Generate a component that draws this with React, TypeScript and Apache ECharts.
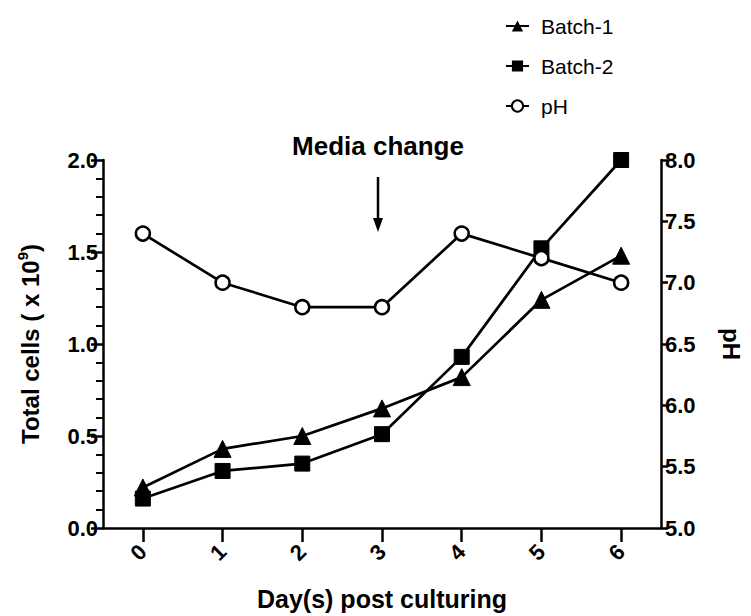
import React, { useEffect, useRef } from "react";
import * as echarts from "echarts";

const days = ["0", "1", "2", "3", "4", "5", "6"];
const batch1 = [0.22, 0.43, 0.5, 0.65, 0.82, 1.24, 1.48];
const batch2 = [0.16, 0.31, 0.35, 0.51, 0.93, 1.52, 2.0];
const ph = [7.4, 7.0, 6.8, 6.8, 7.4, 7.2, 7.0];

const FONT = "Liberation Sans, Arial, Helvetica, sans-serif";

export default function App() {
  const ref = useRef<HTMLDivElement>(null);
  useEffect(() => {
    if (!ref.current) return;
    const chart = echarts.init(ref.current, null, { renderer: "svg" });
    const axisLine = { show: true, lineStyle: { color: "#000", width: 2.5 } };
    const tickLabel = { color: "#000", fontSize: 22, fontWeight: "bold" as const, fontFamily: FONT };
    const nameStyle = { color: "#000", fontSize: 24, fontWeight: "bold" as const, fontFamily: FONT };
    chart.setOption({
      animation: false,
      backgroundColor: "#fff",
      textStyle: { fontFamily: FONT },
      grid: { left: 103, right: 86, top: 160, bottom: 88, containLabel: false },
      legend: {
        orient: "vertical",
        left: 500,
        top: 9,
        itemGap: 16,
        itemWidth: 23,
        itemHeight: 14,
        textStyle: { color: "#000", fontSize: 21, fontFamily: FONT, lineHeight: 24, padding: [0, 0, 0, 7] },
        data: ["Batch-1", "Batch-2", "pH"],
      },
      xAxis: {
        type: "category",
        data: days,
        boundaryGap: true,
        name: "Day(s) post culturing",
        nameLocation: "middle",
        nameGap: 58,
        nameTextStyle: { ...nameStyle, fontSize: 25 },
        axisLine,
        axisTick: { show: true, alignWithLabel: true, length: 14, lineStyle: { color: "#000", width: 2.5 } },
        axisLabel: { ...tickLabel, rotate: 45, margin: 20 },
        splitLine: { show: false },
      },
      yAxis: [
        {
          type: "value",
          min: 0,
          max: 2,
          interval: 0.5,
          name: "{a|Total cells ( x 10}{s|9}{a|)}",
          nameLocation: "middle",
          nameGap: 58,
          nameTextStyle: {
            ...nameStyle,
            rich: {
              a: { ...nameStyle, lineHeight: 30, verticalAlign: "middle" },
              s: { color: "#000", fontSize: 15, fontWeight: "bold", fontFamily: FONT, lineHeight: 30, verticalAlign: "top" },
            },
          },
          axisLine,
          axisTick: { show: true, length: 12, lineStyle: { color: "#000", width: 2.5 } },
          minorTick: { show: true, splitNumber: 5, length: 7, lineStyle: { color: "#000", width: 2 } },
          axisLabel: { ...tickLabel, margin: 5, formatter: (v: number) => v.toFixed(1) },
          splitLine: { show: false },
          minorSplitLine: { show: false },
        },
        {
          type: "value",
          min: 5,
          max: 8,
          interval: 0.5,
          position: "right",
          name: "pH",
          nameLocation: "middle",
          nameRotate: -90,
          nameGap: 58,
          nameTextStyle: nameStyle,
          axisLine,
          axisTick: { show: true, length: 7, lineStyle: { color: "#000", width: 2.5 } },
          axisLabel: { ...tickLabel, margin: 4, formatter: (v: number) => v.toFixed(1) },
          splitLine: { show: false },
        },
      ],
      series: [
        {
          name: "Batch-1",
          type: "line",
          data: batch1,
          yAxisIndex: 0,
          symbol: "triangle",
          symbolSize: 17,
          lineStyle: { color: "#000", width: 2.7 },
          itemStyle: { color: "#000", borderColor: "#000" },
          z: 3,
        },
        {
          name: "Batch-2",
          type: "line",
          data: batch2,
          yAxisIndex: 0,
          symbol: "rect",
          symbolSize: 15,
          lineStyle: { color: "#000", width: 2.7 },
          itemStyle: { color: "#000", borderColor: "#000" },
          z: 3,
        },
        {
          name: "pH",
          type: "line",
          data: ph,
          yAxisIndex: 1,
          symbol: "circle",
          symbolSize: 14,
          showAllSymbol: true,
          lineStyle: { color: "#000", width: 2.7 },
          itemStyle: { color: "#fff", borderColor: "#000", borderWidth: 2.5 },
          z: 4,
        },
      ],
      graphic: [
        {
          type: "text",
          x: 378,
          y: 146,
          style: {
            text: "Media change",
            fill: "#000",
            font: `bold 26px ${FONT}`,
            textAlign: "center",
            textVerticalAlign: "middle",
          },
        },
        {
          type: "line",
          shape: { x1: 378, y1: 177, x2: 378, y2: 222 },
          style: { stroke: "#000", lineWidth: 2.5 },
        },
        {
          type: "polygon",
          shape: { points: [[373, 218], [383, 218], [378, 232]] },
          style: { fill: "#000" },
        },
      ],
    });
    return () => chart.dispose();
  }, []);
  return (
    <div
      ref={ref}
      style={{ position: "fixed", left: 0, top: 0, width: 751, height: 616 }}
    />
  );
}
